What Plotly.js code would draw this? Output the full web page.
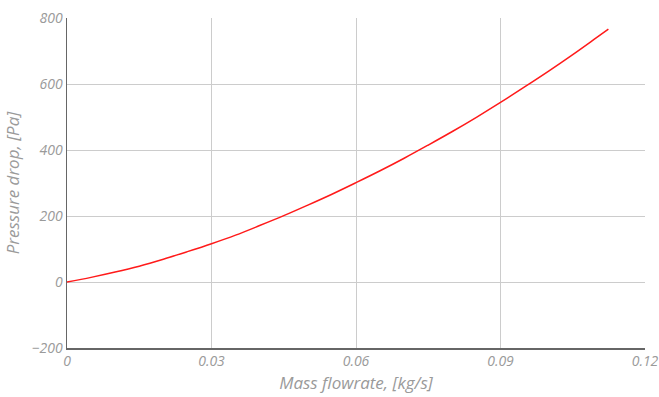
<!DOCTYPE html>
<html>
<head>
<meta charset="utf-8">
<script src="https://cdn.plot.ly/plotly-3.0.1.min.js"></script>
<style>html,body{margin:0;padding:0;background:#fff;}#chart{width:659px;height:397px;}</style>
</head>
<body>
<div id="chart"></div>
<script>
const massFlow = [0, 0.005, 0.01, 0.015, 0.02, 0.025, 0.03, 0.035, 0.04, 0.045, 0.05, 0.055, 0.06, 0.065, 0.07, 0.075, 0.08, 0.085, 0.09, 0.095, 0.1, 0.105, 0.11, 0.1124];
const pressureDrop = [0, 14, 30, 48, 69, 92, 116, 142, 171, 201, 233, 266, 301, 337, 375, 415, 456, 499, 544, 591, 639, 689, 741, 766];
const xTicks = [0, 0.03, 0.06, 0.09, 0.12];
const xTickText = ['0', '0.03', '0.06', '0.09', '0.12'];
const yTicks = [-200, 0, 200, 400, 600, 800];

const fam = '"Open Sans", sans-serif';
const font = {family: fam, color: '#9a9a9a', size: 14, style: 'italic'};
const titleFont = {family: fam, color: '#9a9a9a', size: 17, style: 'italic'};

Plotly.newPlot('chart', [{
  x: massFlow, y: pressureDrop, type: 'scatter', mode: 'lines',
  line: {color: '#ff1a1a', width: 1.5, shape: 'spline', smoothing: 1}, hoverinfo: 'skip'
}], {
  width: 659, height: 397,
  margin: {l: 67, r: 14, t: 18, b: 49},
  paper_bgcolor: '#fff', plot_bgcolor: '#fff',
  showlegend: false,
  font: font,
  xaxis: {
    range: [0, 0.12], tickvals: xTicks, ticktext: xTickText,
    showgrid: true, gridcolor: '#cccccc', gridwidth: 1,
    zeroline: false, showline: true, linecolor: '#666', linewidth: 1.5,
    ticks: '', tickfont: font,
    title: {text: 'Mass flowrate, [kg/s]', font: titleFont, standoff: 8}
  },
  yaxis: {
    range: [-200, 800], tickvals: yTicks,
    showgrid: true, gridcolor: '#cccccc', gridwidth: 1,
    zeroline: true, zerolinecolor: '#cccccc', zerolinewidth: 1,
    showline: true, linecolor: '#666', linewidth: 1.5,
    ticks: '', tickfont: font,
    title: {text: 'Pressure drop, [Pa]', font: titleFont, standoff: 8}
  }
}, {displayModeBar: false, staticPlot: true});
</script>
</body>
</html>
